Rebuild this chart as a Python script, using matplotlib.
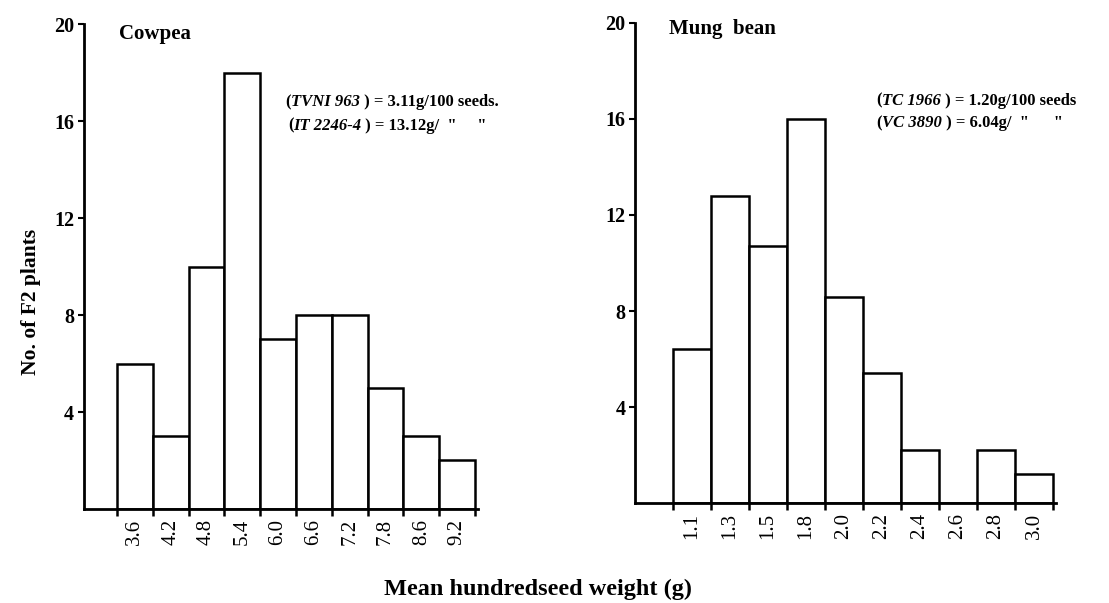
import matplotlib
matplotlib.use("Agg")
import matplotlib.pyplot as plt
import numpy as np

plt.rcParams["font.family"] = ["Liberation Serif", "DejaVu Serif"]

# Cowpea F2 distribution
cowpea_labels = ["3.6", "4.2", "4.8", "5.4", "6.0", "6.6", "7.2", "7.8", "8.6", "9.2"]
cowpea_counts = [6, 3, 10, 18, 7, 8, 8, 5, 3, 2]

# Mung bean F2 distribution
mung_labels = ["1.1", "1.3", "1.5", "1.8", "2.0", "2.2", "2.4", "2.6", "2.8", "3.0"]
mung_counts = [6.4, 12.8, 10.7, 16.0, 8.6, 5.4, 2.2, 0, 2.2, 1.2]

y_ticks = [4, 8, 12, 16, 20]

fig = plt.figure(figsize=(11.09, 6.03), dpi=100, facecolor="white")
ax1 = fig.add_axes([0.0757, 0.1559, 0.3553, 0.8042])
ax2 = fig.add_axes([0.5726, 0.1658, 0.3796, 0.7961])


def draw_hist(ax, labels, counts, xleft, title, title_x, title_y):
    pos = np.arange(len(counts))
    ax.bar(pos, counts, width=1.0, facecolor="white", edgecolor="black", linewidth=1.8)
    ax.set_xlim(xleft, len(counts) - 0.42)
    ax.set_ylim(0, 20)
    for s in ["top", "right"]:
        ax.spines[s].set_visible(False)
    for s in ["left", "bottom"]:
        ax.spines[s].set_linewidth(2.0)
    ax.set_yticks(y_ticks)
    ax.set_yticklabels([str(v) for v in y_ticks], fontsize=14.5, fontweight="bold")
    ax.tick_params(axis="y", direction="out", length=4, width=1.5, pad=3)
    # labels under bar centres, tick marks at bar edges
    ax.set_xticks(pos)
    ax.set_xticklabels(labels, rotation=90, fontsize=15)
    ax.tick_params(axis="x", which="major", length=0, pad=7)
    ax.set_xticks(np.arange(len(counts) + 1) - 0.5, minor=True)
    ax.tick_params(axis="x", which="minor", direction="out", length=5, width=1.8)
    ax.text(title_x, title_y, title, fontsize=15, fontweight="bold", va="center", ha="left")


draw_hist(ax1, cowpea_labels, cowpea_counts, -1.42, "Cowpea", -0.45, 19.6)
draw_hist(ax2, mung_labels, mung_counts, -1.5, "Mung  bean", -0.6, 19.75)


def parent_line(ax, x, y, name, rest):
    t = ax.text(x, y, "(", fontsize=12, fontweight="bold", va="baseline", ha="left")
    t2 = ax.annotate(name, xy=(1, 0), xycoords=t, fontsize=12, fontweight="bold",
                     style="italic", va="bottom", ha="left")
    ax.annotate(rest, xy=(1, 0), xycoords=t2, fontsize=12, fontweight="bold",
                va="bottom", ha="left")


parent_line(ax1, 4.2, 16.6, "TVNI 963", " ) = 3.11g/100 seeds.")
parent_line(ax1, 4.27, 15.65, "IT 2246-4", " ) = 13.12g/  \"     \"")
parent_line(ax2, 4.85, 16.6, "TC 1966", " ) = 1.20g/100 seeds")
parent_line(ax2, 4.85, 15.65, "VC 3890", " ) = 6.04g/  \"      \"")

fig.text(0.028, 0.50, "No. of F2 plants", rotation=90, fontsize=15.5, fontweight="bold",
         ha="center", va="center")
fig.text(0.485, 0.022, "Mean hundredseed weight (g)", fontsize=17.5, fontweight="bold",
         ha="center", va="center")

fig.savefig("out.png", dpi=100, facecolor="white")
